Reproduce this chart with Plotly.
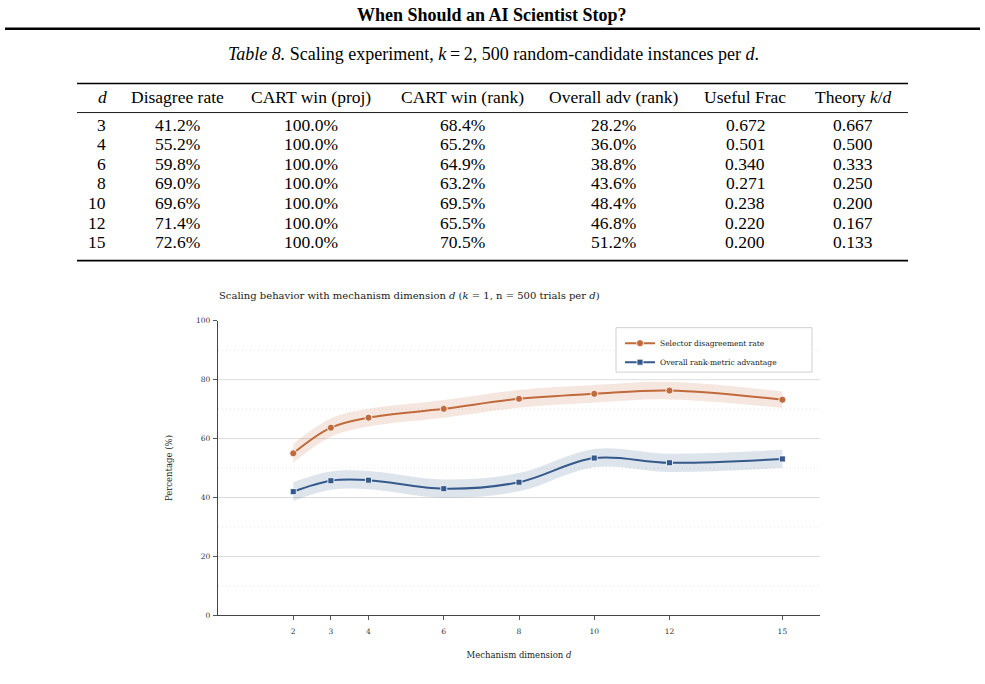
import plotly.graph_objects as go

W, H = 985, 684

# ---------------- data ----------------
# Table 8
table_headers = ["<i>d</i>", "Disagree rate", "CART win (proj)", "CART win (rank)",
                 "Overall adv (rank)", "Useful Frac", "Theory <i>k</i>/<i>d</i>"]
tab_d = ["3", "4", "6", "8", "10", "12", "15"]
tab_disagree = ["41.2%", "55.2%", "59.8%", "69.0%", "69.6%", "71.4%", "72.6%"]
tab_cart_proj = ["100.0%", "100.0%", "100.0%", "100.0%", "100.0%", "100.0%", "100.0%"]
tab_cart_rank = ["68.4%", "65.2%", "64.9%", "63.2%", "69.5%", "65.5%", "70.5%"]
tab_overall = ["28.2%", "36.0%", "38.8%", "43.6%", "48.4%", "46.8%", "51.2%"]
tab_useful = ["0.672", "0.501", "0.340", "0.271", "0.238", "0.220", "0.200"]
tab_theory = ["0.667", "0.500", "0.333", "0.250", "0.200", "0.167", "0.133"]

# Chart
dims = [2, 3, 4, 6, 8, 10, 12, 15]
disagree = [55.0, 63.7, 67.1, 70.1, 73.5, 75.2, 76.3, 73.2]
disagree_lo = [51.8, 60.6, 64.1, 67.1, 70.5, 72.2, 73.3, 70.4]
disagree_hi = [58.2, 66.8, 70.1, 73.1, 76.5, 78.2, 79.3, 76.0]
advantage = [42.0, 45.7, 45.9, 43.0, 45.2, 53.4, 51.8, 53.1]
advantage_lo = [38.8, 42.6, 42.8, 39.9, 42.1, 50.3, 48.7, 50.0]
advantage_hi = [45.2, 48.8, 49.0, 46.1, 48.3, 56.5, 54.9, 56.2]
y_ticks = [0, 20, 40, 60, 80, 100]
grid_major = [20, 40, 60, 80]
grid_minor = [10, 30, 50, 70, 90]

ORANGE = "#C0693A"
BLUE = "#34598A"
ORANGE_BAND = "rgba(192,105,58,0.16)"
BLUE_BAND = "rgba(52,89,138,0.16)"

def px(x):
    return x / W

def py(y):
    return 1 - y / H

fig = go.Figure()

# bands + lines
for name, vals, lo, hi, col, band, sym, msize in [
    ("Selector disagreement rate", disagree, disagree_lo, disagree_hi, ORANGE, ORANGE_BAND, "circle", 7),
    ("Overall rank-metric advantage", advantage, advantage_lo, advantage_hi, BLUE, BLUE_BAND, "square", 6),
]:
    fig.add_trace(go.Scatter(x=dims, y=lo, mode="lines", line=dict(width=0, shape="spline"),
                             showlegend=False, hoverinfo="skip"))
    fig.add_trace(go.Scatter(x=dims, y=hi, mode="lines", line=dict(width=0, shape="spline"),
                             fill="tonexty", fillcolor=band, showlegend=False, hoverinfo="skip"))
    fig.add_trace(go.Scatter(x=dims, y=vals, mode="lines+markers", name=name,
                             line=dict(color=col, width=2, shape="spline"),
                             marker=dict(symbol=sym, size=msize, color=col,
                                         line=dict(color="white", width=0.8))))

shapes = []
for g in grid_major:
    shapes.append(dict(type="line", xref="x domain", yref="y", x0=0, x1=1, y0=g, y1=g,
                       line=dict(color="#dcdcdc", width=1), layer="below"))
for g in grid_minor:
    shapes.append(dict(type="line", xref="x domain", yref="y", x0=0, x1=1, y0=g, y1=g,
                       line=dict(color="#e4e4e4", width=1, dash="1px,3px"), layer="below"))

# legend frame
shapes.append(dict(type="rect", xref="paper", yref="paper", x0=px(616), x1=px(812),
                   y0=py(373), y1=py(328), fillcolor="white",
                   line=dict(color="#d0d0d0", width=1), layer="above"))

# page header rule
shapes.append(dict(type="line", xref="paper", yref="paper", x0=px(5), x1=px(980),
                   y0=py(25), y1=py(25), line=dict(color="black", width=2.5)))
# table rules
TL, TR = px(77), px(908)
shapes.append(dict(type="line", xref="paper", yref="paper", x0=TL, x1=TR, y0=py(80.5), y1=py(80.5),
                   line=dict(color="black", width=1.6)))
shapes.append(dict(type="line", xref="paper", yref="paper", x0=TL, x1=TR, y0=py(110), y1=py(110),
                   line=dict(color="black", width=0.9)))
shapes.append(dict(type="line", xref="paper", yref="paper", x0=TL, x1=TR, y0=py(260), y1=py(260),
                   line=dict(color="black", width=1.6)))

annotations = []
SERIF = "Liberation Serif"
annotations.append(dict(text="<b>When Should an AI Scientist Stop?</b>", x=px(492), y=py(11),
                        xref="paper", yref="paper", showarrow=False, xanchor="center", yanchor="middle",
                        font=dict(family=SERIF, size=18, color="black")))
annotations.append(dict(text="<i>Table 8.</i> Scaling experiment, <i>k</i>\u2009=\u20092, 500 random-candidate instances per <i>d</i>.",
                        x=px(493), y=py(51), xref="paper", yref="paper", showarrow=False,
                        xanchor="center", yanchor="middle",
                        font=dict(family=SERIF, size=18, color="black")))

col_x = [102, 177, 311, 462, 613, 745, 853]
columns = [tab_d, tab_disagree, tab_cart_proj, tab_cart_rank, tab_overall, tab_useful, tab_theory]
header_y = 94
row_y0, row_dy = 122.3, 19.85
for ci, (hdr, cx, col) in enumerate(zip(table_headers, col_x, columns)):
    annotations.append(dict(text=hdr, x=px(cx), y=py(header_y), xref="paper", yref="paper",
                            showarrow=False, xanchor="center", yanchor="middle",
                            font=dict(family=SERIF, size=17.5, color="black")))
    for ri, v in enumerate(col):
        if ci == 0:
            annotations.append(dict(text=v, x=px(107.5), y=py(row_y0 + ri * row_dy), xref="paper",
                                    yref="paper", showarrow=False, xanchor="right", yanchor="middle",
                                    font=dict(family=SERIF, size=17.5, color="black")))
        else:
            annotations.append(dict(text=v, x=px(cx), y=py(row_y0 + ri * row_dy), xref="paper",
                                    yref="paper", showarrow=False, xanchor="center", yanchor="middle",
                                    font=dict(family=SERIF, size=17.5, color="black")))

CH = "DejaVu Serif"
annotations.append(dict(text="Scaling behavior with mechanism dimension <i>d</i> (<i>k</i> = 1, n = 500 trials per <i>d</i>)",
                        x=px(217), y=py(295), xref="paper", yref="paper", showarrow=False,
                        xanchor="left", yanchor="middle", font=dict(family=CH, size=10, color="#1a1a1a")))

fig.update_layout(
    width=W, height=H, autosize=False,
    margin=dict(l=0, r=0, t=0, b=0),
    paper_bgcolor="white", plot_bgcolor="white",
    shapes=shapes, annotations=annotations,
    showlegend=True,
    legend=dict(x=px(620), y=py(329), xanchor="left", yanchor="top", traceorder="normal",
                bgcolor="rgba(0,0,0,0)", borderwidth=0,
                font=dict(family=CH, size=7.5, color="#222"), tracegroupgap=0),
    xaxis=dict(domain=[px(218), px(820)], range=[0, 16], tickvals=dims,
               ticks="outside", ticklen=4, tickcolor="#555", tickwidth=1, ticklabelstandoff=5,
               showline=True, linecolor="#444", linewidth=1.2, showgrid=False, zeroline=False,
               tickfont=dict(family=CH, size=7.5, color="#333"),
               title=dict(text="Mechanism dimension <i>d</i>", font=dict(family=CH, size=8.5, color="#222"),
                          standoff=16)),
    yaxis=dict(domain=[py(619.5), py(321)], range=[0, 100], tickvals=y_ticks,
               ticks="outside", ticklen=4, tickcolor="#555", tickwidth=1, ticklabelstandoff=1,
               showline=True, linecolor="#444", linewidth=1.2, showgrid=False, zeroline=False,
               tickfont=dict(family=CH, size=7.5, color="#333"),
               title=dict(text="Percentage (%)", font=dict(family=CH, size=8.5, color="#222"),
                          standoff=22)),
)

fig.write_html("out.html")
